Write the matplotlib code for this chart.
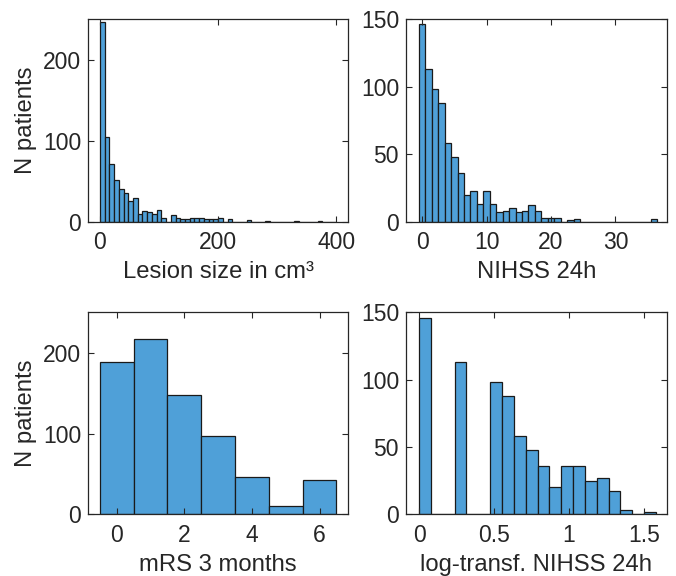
import numpy as np
import matplotlib
matplotlib.use("Agg")
import matplotlib.pyplot as plt

plt.rcParams['font.family'] = ['Liberation Sans', 'DejaVu Sans']
plt.rcParams['font.size'] = 16

# lesion size histogram (bins of 8 cm3 starting at 0)
lesion_bin_width = 8
lesion_counts = [246, 105, 71, 51, 40, 36, 26, 29, 10, 13,
                 12, 10, 15, 5, 0, 8, 5, 3, 3, 5,
                 4, 4, 3, 3, 3, 4, 0, 3, 0, 0,
                 0, 2, 0, 0, 0, 1, 0, 0, 0, 0,
                 0, 1, 0, 0, 0, 0, 1, 0, 0, 0]

# NIHSS 24h, one bin per score 0..36
nihss_scores = list(range(0, 37))
nihss_counts = [146, 113, 98, 88, 58, 48, 36, 20, 23, 13,
                23, 13, 7, 8, 10, 7, 8, 12, 8, 3,
                3, 3, 0, 1, 2, 0, 0, 0, 0, 0,
                0, 0, 0, 0, 0, 0, 2]

# mRS after 3 months
mrs_scores = [0, 1, 2, 3, 4, 5, 6]
mrs_counts = [188, 217, 148, 97, 46, 10, 42]

# log-transformed NIHSS 24h, 20 bins
log_bin_width = 0.079
log_counts = [146, 0, 0, 113, 0, 0, 98, 88, 58, 48,
              36, 20, 36, 36, 25, 27, 17, 3, 0, 2]

bar_color = '#4FA0D8'
edge = '#1a1a1a'
axis_col = '#262626'
lab_size = 17.2

fig = plt.figure(figsize=(6.76, 5.76), dpi=100)
ax1 = fig.add_axes([0.1302, 0.6151, 0.385, 0.352])
ax2 = fig.add_axes([0.6006, 0.6151, 0.386, 0.352])
ax3 = fig.add_axes([0.1302, 0.1071, 0.385, 0.3507])
ax4 = fig.add_axes([0.6006, 0.1071, 0.386, 0.3507])

lesion_left = np.arange(len(lesion_counts)) * lesion_bin_width
ax1.bar(lesion_left, lesion_counts, width=lesion_bin_width, align='edge',
        color=bar_color, edgecolor=edge, linewidth=0.9)
ax1.set_xlim(-20, 420)
ax1.set_ylim(0, 250)
ax1.set_xticks([0, 200, 400])
ax1.set_yticks([0, 100, 200])
ax1.set_xlabel('Lesion size in cm³', fontsize=lab_size, labelpad=5)
ax1.set_ylabel('N patients', fontsize=lab_size)

ax2.bar(nihss_scores, nihss_counts, width=1, color=bar_color, edgecolor=edge, linewidth=0.9)
ax2.set_xlim(-2.5, 38)
ax2.set_ylim(0, 150)
ax2.set_xticks([0, 10, 20, 30])
ax2.set_yticks([0, 50, 100, 150])
ax2.set_xlabel('NIHSS 24h', fontsize=lab_size, labelpad=5)

ax3.bar(mrs_scores, mrs_counts, width=1, color=bar_color, edgecolor=edge, linewidth=0.9)
ax3.set_xlim(-0.85, 6.85)
ax3.set_ylim(0, 250)
ax3.set_xticks([0, 2, 4, 6])
ax3.set_yticks([0, 100, 200])
ax3.set_xlabel('mRS 3 months', fontsize=lab_size, labelpad=5)
ax3.set_ylabel('N patients', fontsize=lab_size)

log_left = np.arange(len(log_counts)) * log_bin_width
ax4.bar(log_left, log_counts, width=log_bin_width, align='edge',
        color=bar_color, edgecolor=edge, linewidth=0.9)
ax4.set_xlim(-0.087, 1.653)
ax4.set_ylim(0, 150)
ax4.set_xticks([0, 0.5, 1, 1.5])
ax4.set_xticklabels(['0', '0.5', '1', '1.5'])
ax4.set_yticks([0, 50, 100, 150])
ax4.set_xlabel('log-transf. NIHSS 24h', fontsize=lab_size, labelpad=5)

for ax in [ax1, ax2, ax3, ax4]:
    ax.tick_params(direction='in', top=True, right=True, length=4, width=0.8,
                   colors=axis_col, labelsize=16.5)
    ax.tick_params(axis='x', pad=7)
    ax.tick_params(axis='y', pad=5)
    for s in ax.spines.values():
        s.set_color(axis_col)
        s.set_linewidth(0.9)
    ax.xaxis.label.set_color(axis_col)
    ax.yaxis.label.set_color(axis_col)

plt.savefig('out.png', dpi=100)
